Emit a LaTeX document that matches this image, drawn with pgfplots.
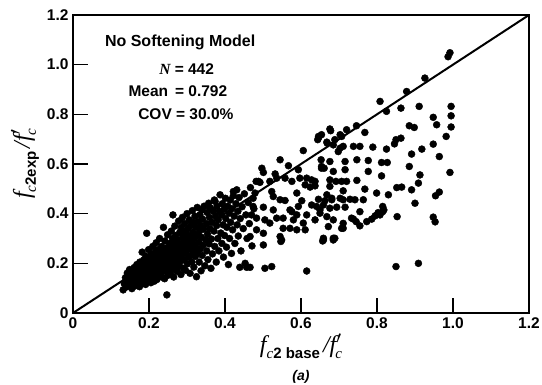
\documentclass[border=0pt]{standalone}
\usepackage{pgfplots}
\pgfplotsset{compat=1.18}
\usepackage{fontspec}
\setmainfont{Liberation Sans}
\newfontfamily\tim{Liberation Serif}
\newcommand{\bigf}{\fontsize{24}{24}\selectfont\tim\itshape}
\newcommand{\sub}{\fontsize{15}{15}\selectfont}
\pgfplotstableread{
x y
0.992 1.048
0.987 1.032
0.926 0.946
0.878 0.892
0.808 0.852
0.825 0.812
0.863 0.825
0.911 0.832
0.995 0.832
0.995 0.794
0.995 0.749
0.948 0.788
0.957 0.758
0.885 0.754
0.898 0.747
0.982 0.711
0.863 0.704
0.850 0.698
0.846 0.681
0.825 0.660
0.948 0.680
0.918 0.660
0.891 0.640
0.964 0.630
0.812 0.606
0.827 0.606
0.885 0.590
0.812 0.552
0.913 0.556
0.909 0.523
0.992 0.566
0.852 0.505
0.865 0.507
0.891 0.496
0.830 0.476
0.964 0.487
0.954 0.472
0.900 0.442
0.815 0.429
0.815 0.408
0.808 0.395
0.853 0.388
0.948 0.386
0.953 0.367
0.850 0.187
0.909 0.200
0.501 0.274
0.547 0.288
0.657 0.290
0.685 0.294
0.466 0.184
0.505 0.180
0.523 0.187
0.615 0.169
0.647 0.708
0.644 0.698
0.678 0.734
0.703 0.718
0.720 0.738
0.768 0.727
0.669 0.684
0.685 0.677
0.703 0.664
0.711 0.671
0.738 0.671
0.755 0.671
0.789 0.668
0.606 0.654
0.545 0.617
0.567 0.593
0.653 0.617
0.676 0.610
0.716 0.610
0.747 0.617
0.777 0.614
0.497 0.583
0.501 0.566
0.654 0.583
0.685 0.570
0.716 0.577
0.777 0.570
0.532 0.560
0.536 0.543
0.558 0.543
0.593 0.577
0.597 0.543
0.615 0.543
0.628 0.536
0.637 0.530
0.637 0.512
0.676 0.536
0.692 0.530
0.707 0.530
0.720 0.530
0.747 0.534
0.482 0.530
0.492 0.526
0.518 0.530
0.576 0.530
0.611 0.516
0.624 0.507
0.676 0.510
0.711 0.492
0.768 0.499
0.799 0.483
0.479 0.483
0.474 0.462
0.523 0.489
0.527 0.469
0.545 0.456
0.558 0.453
0.589 0.483
0.602 0.452
0.628 0.435
0.641 0.429
0.650 0.415
0.646 0.458
0.663 0.452
0.681 0.462
0.703 0.462
0.729 0.458
0.742 0.456
0.694 0.426
0.716 0.426
0.818 0.415
0.803 0.404
0.795 0.391
0.786 0.378
0.773 0.368
0.755 0.351
0.738 0.378
0.745 0.368
0.711 0.341
0.685 0.375
0.672 0.348
0.659 0.301
0.685 0.301
0.637 0.375
0.615 0.395
0.606 0.362
0.589 0.395
0.576 0.408
0.580 0.375
0.571 0.341
0.589 0.335
0.611 0.335
0.545 0.308
0.549 0.294
0.501 0.321
0.483 0.335
0.466 0.308
0.527 0.415
0.536 0.382
0.553 0.382
0.501 0.426
0.474 0.429
0.483 0.382
0.505 0.375
0.518 0.362
0.553 0.341
0.571 0.415
0.593 0.429
0.470 0.395
0.746 0.754
0.676 0.741
0.646 0.711
0.654 0.718
0.707 0.711
0.698 0.650
0.668 0.688
0.689 0.698
0.654 0.590
0.661 0.583
0.711 0.361
0.707 0.341
0.689 0.301
0.659 0.294
0.733 0.382
0.764 0.456
0.755 0.408
0.650 0.402
0.668 0.388
0.676 0.422
0.659 0.435
0.668 0.476
0.681 0.456
0.711 0.456
0.488 0.530
0.339 0.415
0.361 0.422
}\outer
\pgfplotstableread{
x y
0.132 0.093
0.135 0.118
0.138 0.142
0.141 0.105
0.143 0.161
0.146 0.128
0.148 0.112
0.149 0.175
0.151 0.135
0.153 0.152
0.155 0.098
0.156 0.168
0.158 0.121
0.160 0.145
0.161 0.183
0.163 0.109
0.165 0.158
0.166 0.131
0.168 0.195
0.169 0.140
0.171 0.118
0.172 0.172
0.174 0.150
0.175 0.106
0.176 0.205
0.178 0.134
0.179 0.188
0.181 0.160
0.182 0.245
0.184 0.122
0.185 0.176
0.186 0.214
0.188 0.142
0.189 0.196
0.190 0.165
0.191 0.115
0.192 0.228
0.194 0.321
0.194 0.150
0.195 0.183
0.197 0.205
0.198 0.132
0.199 0.255
0.200 0.170
0.201 0.192
0.203 0.146
0.204 0.218
0.205 0.122
0.206 0.238
0.207 0.178
0.208 0.160
0.209 0.201
0.210 0.268
0.211 0.140
0.212 0.187
0.213 0.226
0.214 0.128
0.215 0.172
0.216 0.245
0.217 0.205
0.218 0.158
0.219 0.283
0.220 0.192
0.221 0.135
0.222 0.215
0.223 0.176
0.224 0.255
0.225 0.230
0.226 0.150
0.227 0.198
0.228 0.300
0.229 0.182
0.230 0.240
0.231 0.163
0.232 0.212
0.233 0.268
0.234 0.145
0.235 0.195
0.236 0.228
0.237 0.178
0.238 0.345
0.239 0.250
0.240 0.205
0.241 0.138
0.242 0.290
0.243 0.187
0.244 0.235
0.245 0.168
0.246 0.218
0.247 0.073
0.247 0.262
0.248 0.200
0.249 0.315
0.250 0.152
0.250 0.243
0.252 0.185
0.253 0.225
0.254 0.280
0.255 0.208
0.256 0.160
0.257 0.255
0.258 0.192
0.259 0.330
0.260 0.238
0.261 0.175
0.262 0.300
0.263 0.215
0.263 0.395
0.264 0.265
0.265 0.145
0.266 0.228
0.267 0.198
0.268 0.285
0.268 0.350
0.269 0.245
0.270 0.182
0.270 0.312
0.272 0.220
0.273 0.262
0.274 0.168
0.275 0.295
0.276 0.240
0.277 0.205
0.278 0.370
0.279 0.278
0.280 0.190
0.281 0.325
0.282 0.252
0.283 0.228
0.284 0.155
0.285 0.345
0.286 0.268
0.287 0.212
0.288 0.305
0.288 0.385
0.289 0.238
0.290 0.180
0.290 0.285
0.290 0.330
0.292 0.255
0.293 0.215
0.294 0.360
0.295 0.298
0.296 0.172
0.297 0.272
0.298 0.240
0.299 0.318
0.300 0.400
0.301 0.198
0.302 0.285
0.303 0.340
0.304 0.258
0.305 0.225
0.306 0.375
0.307 0.305
0.308 0.160
0.309 0.268
0.310 0.352
0.310 0.232
0.312 0.290
0.313 0.205
0.314 0.412
0.315 0.325
0.316 0.250
0.317 0.365
0.318 0.185
0.319 0.300
0.320 0.275
0.321 0.390
0.322 0.228
0.323 0.345
0.324 0.262
0.325 0.146
0.326 0.310
0.327 0.425
0.328 0.240
0.330 0.368
0.331 0.285
0.332 0.205
0.333 0.330
0.334 0.395
0.335 0.258
0.336 0.352
0.337 0.170
0.338 0.305
0.339 0.415
0.340 0.232
0.341 0.378
0.342 0.272
0.344 0.338
0.345 0.430
0.347 0.190
0.349 0.295
0.351 0.360
0.352 0.250
0.353 0.405
0.354 0.318
0.355 0.215
0.357 0.442
0.358 0.278
0.359 0.385
0.360 0.340
0.361 0.422
0.363 0.180
0.364 0.298
0.366 0.365
0.367 0.238
0.369 0.410
0.371 0.330
0.372 0.455
0.373 0.268
0.374 0.449
0.375 0.390
0.377 0.205
0.378 0.352
0.379 0.430
0.381 0.300
0.382 0.375
0.384 0.250
0.385 0.410
0.387 0.476
0.389 0.322
0.391 0.395
0.392 0.280
0.393 0.440
0.395 0.355
0.396 0.225
0.398 0.418
0.399 0.312
0.401 0.462
0.402 0.380
0.404 0.265
0.405 0.345
0.407 0.430
0.409 0.195
0.411 0.402
0.412 0.300
0.414 0.455
0.415 0.365
0.417 0.240
0.418 0.420
0.420 0.335
0.422 0.489
0.422 0.472
0.424 0.390
0.426 0.280
0.429 0.440
0.431 0.496
0.432 0.355
0.434 0.410
0.435 0.310
0.437 0.465
0.439 0.184
0.440 0.380
0.442 0.250
0.445 0.428
0.448 0.340
0.451 0.480
0.453 0.200
0.455 0.395
0.457 0.184
0.458 0.300
0.461 0.445
0.464 0.360
0.467 0.505
0.471 0.270
0.476 0.420
}\inner
\begin{document}
\begin{tikzpicture}
\useasboundingbox (-73pt,-72pt) rectangle (469pt,313pt);
\begin{axis}[
  at={(0,0)}, anchor=origin,
  scale only axis, width=456pt, height=298pt,
  xmin=0, xmax=1.2, ymin=0, ymax=1.2,
  clip=false,
  axis line style={line width=1.8pt},
  tick pos=left, tick align=inside, major tick length=15pt,
  tick style={line width=1.6pt, black},
  xtick={0,0.2,0.4,0.6,0.8,1.0,1.2},
  ytick={0,0.2,0.4,0.6,0.8,1.0,1.2},
  xticklabels={0,0.2,0.4,0.6,0.8,1.0,1.2},
  yticklabels={0,0.2,0.4,0.6,0.8,1.0,1.2},
  ticklabel style={font=\fontsize{15.5}{15.5}\selectfont\bfseries},
  xticklabel style={yshift=-1pt},
  yticklabel style={xshift=-1pt},
]
\addplot[black, line width=2pt] coordinates {(0,0) (1.2,1.2)};
\addplot[only marks, mark=*, mark size=3.5pt, black] table {\outer};
\addplot[only marks, mark=*, mark size=3.5pt, black] table {\inner};
\node[font=\fontsize{16}{16}\selectfont\bfseries] at (axis cs:0.282,1.089) {No Softening Model};
\node[font=\fontsize{15.5}{15.5}\selectfont\bfseries] at (axis cs:0.299,0.984) {{\tim\itshape N} = 442};
\node[font=\fontsize{15.5}{15.5}\selectfont\bfseries] at (axis cs:0.276,0.895) {Mean\, = 0.792};
\node[font=\fontsize{15.5}{15.5}\selectfont\bfseries] at (axis cs:0.297,0.802) {COV = 30.0\%};
\node at (rel axis cs:0.5,0) [yshift=-33pt] {{\bigf f}\raisebox{-6pt}{\sub{\tim\itshape c}\bfseries 2 base}\kern3pt{\bigf /f}\rlap{\fontsize{24}{24}\selectfont$'$}\kern-1pt\raisebox{-6pt}{\sub\tim\itshape c}};
\node at (rel axis cs:0.5,0) [yshift=-64pt, font=\fontsize{14}{14}\selectfont\bfseries\itshape] {(a)};
\node[xshift=-48pt, rotate=90] at (rel axis cs:0,0.5) {{\bigf f}\raisebox{-6pt}{\sub{\tim\itshape c}\bfseries 2exp}\kern3pt{\bigf /f}\rlap{\fontsize{24}{24}\selectfont$'$}\kern-1pt\raisebox{-6pt}{\sub\tim\itshape c}};
\end{axis}
\end{tikzpicture}
\end{document}
